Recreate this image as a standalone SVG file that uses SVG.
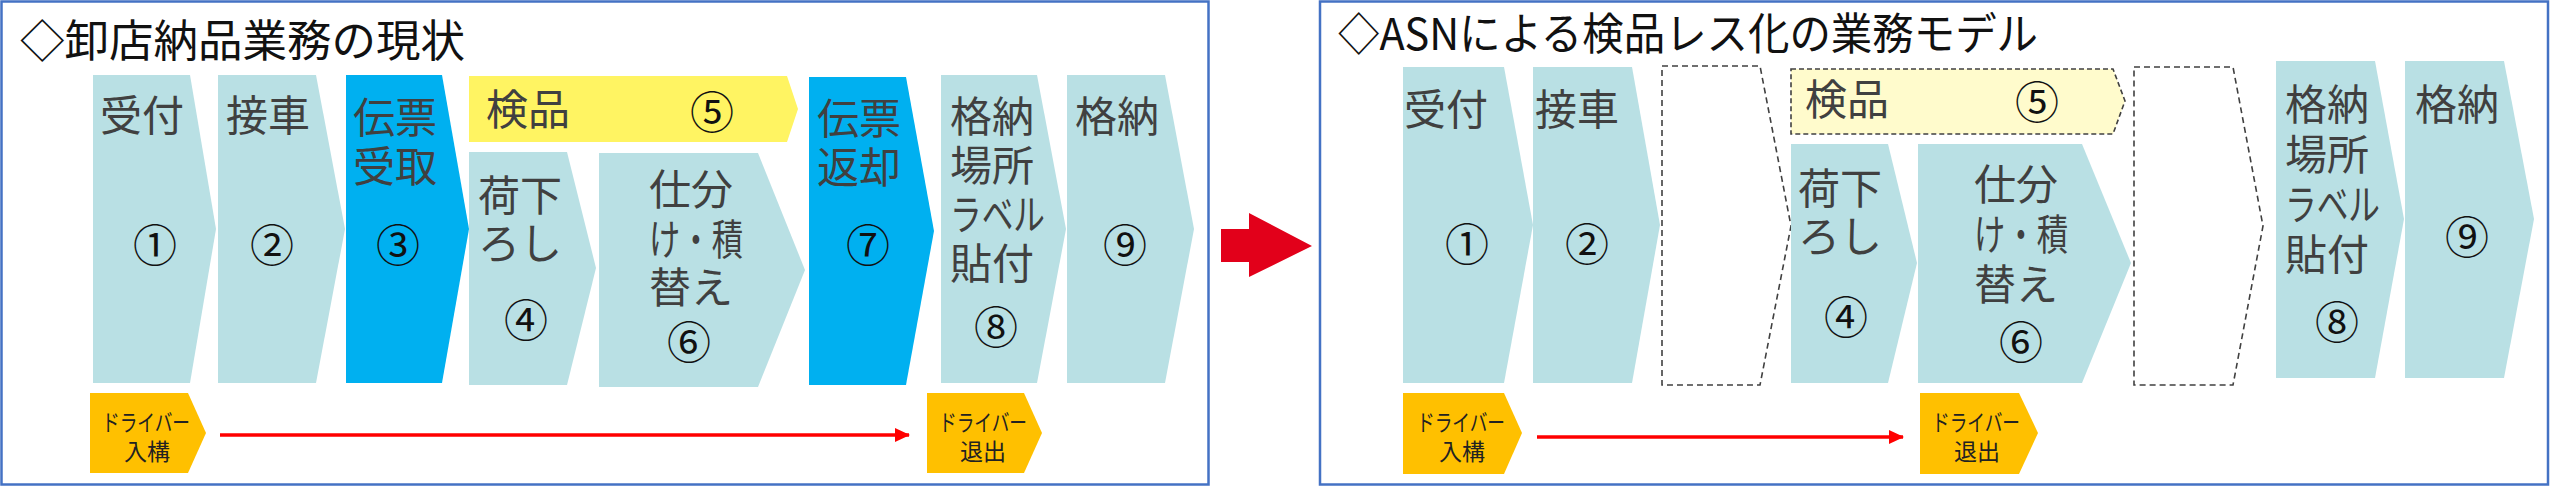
<svg xmlns="http://www.w3.org/2000/svg" width="2551" height="487" viewBox="0 0 2551 487">
<style>
text{font-family:"Noto Sans CJK JP","Noto Sans",sans-serif}
.panel{fill:#fff;stroke:#4472C4;stroke-width:2.5}
.title{font-size:44px;fill:#111}
.lb{fill:#B9E0E4}
.bl{fill:#00B0F0}
.yl{fill:#FFF462}
.yd{fill:#FFFBCC;stroke:#404040;stroke-width:1.6;stroke-dasharray:5 3}
.dash{fill:#fff;stroke:#404040;stroke-width:1.6;stroke-dasharray:6 4}
.dr{fill:#FFC000}
.t{font-family:"Liberation Sans","Noto Sans CJK JP",sans-serif;font-size:42px;fill:#404040}
.n{font-size:44px;fill:#111;text-anchor:middle;dominant-baseline:central}
.d{font-family:"Liberation Sans","Noto Sans CJK JP",sans-serif;font-size:23px;fill:#222;text-anchor:middle}
.rl{stroke:#FF0000;stroke-width:3.5;fill:none}
</style>
<defs>
<marker id="ah" markerUnits="userSpaceOnUse" markerWidth="16" markerHeight="16" viewBox="0 0 16 16" refX="14" refY="8" orient="auto">
<path d="M0,1 L15,8 L0,15 Z" fill="#FF0000"/>
</marker>
</defs>

<g id="panel-left">
<rect class="panel" x="1.5" y="1.5" width="1207" height="483"/>
<text class="title" x="20" y="57" textLength="445" lengthAdjust="spacingAndGlyphs">◇卸店納品業務の現状</text>
</g>

<g id="L1"><polygon class="lb" points="93,75 190,75 216,229 190,383 93,383"/>
<text class="t" x="100" y="131">受付</text><text class="n" x="155" y="243">①</text></g>
<g id="L2"><polygon class="lb" points="218,75 316,75 345,229 316,383 218,383"/>
<text class="t" x="226" y="131">接車</text><text class="n" x="272" y="243">②</text></g>
<g id="L3"><polygon class="bl" points="346,75 442,75 469,229 442,383 346,383"/>
<text class="t" x="353" y="133">伝票<tspan x="353" dy="49">受取</tspan></text><text class="n" x="398" y="243">③</text></g>
<g id="L5"><polygon class="yl" points="469,76 787,76 798,109 787,142 469,142"/>
<text class="t" x="486" y="125">検品</text><text class="n" x="712" y="110">⑤</text></g>
<g id="L4"><polygon class="lb" points="469,152 567,152 596,268 567,385 469,385"/>
<text class="t" x="478" y="211">荷下<tspan x="478" dy="48">ろし</tspan></text><text class="n" x="526" y="318">④</text></g>
<g id="L6"><polygon class="lb" points="599,153 758,153 805,270 758,387 599,387"/>
<text class="t" x="649" y="205">仕分<tspan x="649" dy="50" textLength="94" lengthAdjust="spacingAndGlyphs">け・積</tspan><tspan x="649" dy="48">替え</tspan></text><text class="n" x="689" y="340">⑥</text></g>
<g id="L7"><polygon class="bl" points="809,77 906,77 934,231 906,385 809,385"/>
<text class="t" x="817" y="134">伝票<tspan x="817" dy="49">返却</tspan></text><text class="n" x="868" y="243">⑦</text></g>
<g id="L8"><polygon class="lb" points="941,75 1037,75 1066,229 1037,383 941,383"/>
<text class="t" x="950" y="132">格納<tspan x="950" dy="49">場所</tspan><tspan x="950" dy="49" textLength="95" lengthAdjust="spacingAndGlyphs">ラベル</tspan><tspan x="950" dy="49">貼付</tspan></text><text class="n" x="996" y="325">⑧</text></g>
<g id="L9"><polygon class="lb" points="1067,75 1165,75 1194,229 1165,383 1067,383"/>
<text class="t" x="1075" y="132">格納</text><text class="n" x="1125" y="243">⑨</text></g>
<g id="Lin"><polygon class="dr" points="90,393 188,393 206,433 188,473 90,473"/>
<text class="d" x="146" y="431"><tspan textLength="88" lengthAdjust="spacingAndGlyphs">ドライバー</tspan><tspan x="147" dy="29">入構</tspan></text></g>
<g id="Lout"><polygon class="dr" points="927,393 1024,393 1042,433 1024,473 927,473"/>
<text class="d" x="983" y="431"><tspan textLength="88" lengthAdjust="spacingAndGlyphs">ドライバー</tspan><tspan x="983" dy="29">退出</tspan></text></g>

<g id="bigarrow"><polygon fill="#E2001A" points="1221,229 1249,229 1249,213 1312,246 1249,277 1249,262 1221,262"/></g>

<g id="panel-right">
<rect class="panel" x="1320" y="1.5" width="1228" height="483"/>
<text class="title" x="1338" y="50" textLength="700" lengthAdjust="spacingAndGlyphs">◇ASNによる検品レス化の業務モデル</text>
</g>

<g id="R1"><polygon class="lb" points="1403,67 1504,67 1533,225 1504,383 1403,383"/>
<text class="t" x="1404" y="125">受付</text><text class="n" x="1467" y="242">①</text></g>
<g id="R2"><polygon class="lb" points="1533,67 1632,67 1660,225 1632,383 1533,383"/>
<text class="t" x="1535" y="125">接車</text><text class="n" x="1587" y="242">②</text></g>
<g id="R3"><polygon class="dash" points="1662,66 1760,66 1791,226 1760,385 1662,385"/></g>
<g id="R5"><polygon class="yd" points="1791,69 2113,69 2125,101 2113,134 1791,134"/>
<text class="t" x="1805" y="115">検品</text><text class="n" x="2037" y="100">⑤</text></g>
<g id="R4"><polygon class="lb" points="1791,144 1888,144 1917,263 1888,383 1791,383"/>
<text class="t" x="1798" y="204">荷下<tspan x="1798" dy="48">ろし</tspan></text><text class="n" x="1846" y="315">④</text></g>
<g id="R6"><polygon class="lb" points="1918,144 2082,144 2131,263 2082,383 1918,383"/>
<text class="t" x="1974" y="200">仕分<tspan x="1974" dy="50" textLength="94" lengthAdjust="spacingAndGlyphs">け・積</tspan><tspan x="1974" dy="50">替え</tspan></text><text class="n" x="2021" y="340">⑥</text></g>
<g id="R7"><polygon class="dash" points="2134,67 2233,67 2263,226 2233,385 2134,385"/></g>
<g id="R8"><polygon class="lb" points="2276,61 2375,61 2404,219 2375,378 2276,378"/>
<text class="t" x="2285" y="120">格納<tspan x="2285" dy="50">場所</tspan><tspan x="2285" dy="50" textLength="95" lengthAdjust="spacingAndGlyphs">ラベル</tspan><tspan x="2285" dy="50">貼付</tspan></text><text class="n" x="2337" y="320">⑧</text></g>
<g id="R9"><polygon class="lb" points="2405,61 2504,61 2534,219 2504,378 2405,378"/>
<text class="t" x="2415" y="120">格納</text><text class="n" x="2467" y="235">⑨</text></g>
<g id="Rin"><polygon class="dr" points="1403,393 1504,393 1522,433 1504,474 1403,474"/>
<text class="d" x="1461" y="431"><tspan textLength="88" lengthAdjust="spacingAndGlyphs">ドライバー</tspan><tspan x="1462" dy="29">入構</tspan></text></g>
<g id="Rout"><polygon class="dr" points="1920,393 2019,393 2038,433 2019,474 1920,474"/>
<text class="d" x="1976" y="431"><tspan textLength="88" lengthAdjust="spacingAndGlyphs">ドライバー</tspan><tspan x="1977" dy="29">退出</tspan></text></g>

<g id="connectors">
<line class="rl" x1="220" y1="435" x2="909" y2="435" marker-end="url(#ah)"/>
<line class="rl" x1="1537" y1="437" x2="1903" y2="437" marker-end="url(#ah)"/>
</g>
</svg>
